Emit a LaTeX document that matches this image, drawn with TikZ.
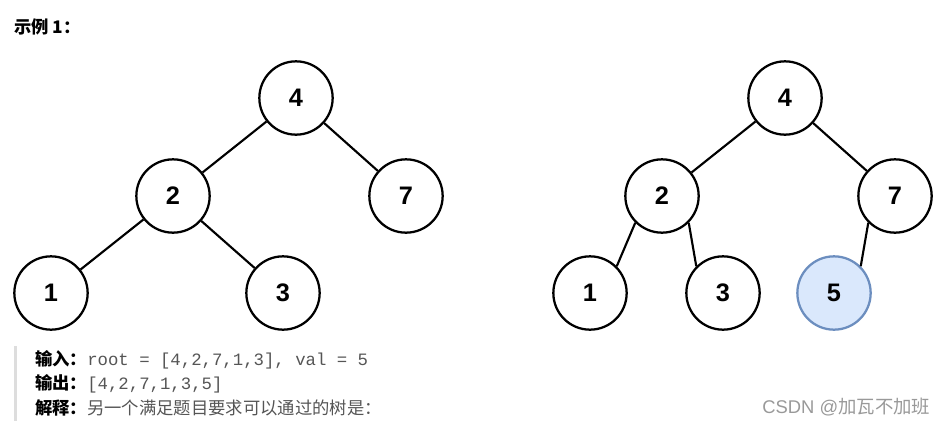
\documentclass[tikz,border=0pt]{standalone}
\usepackage{fontspec}
\setmainfont{Liberation Sans}
\setmonofont{Liberation Mono}
\newfontfamily\cjk{Noto Sans CJK SC}
\definecolor{newfill}{HTML}{DAE8FC}
\definecolor{newdraw}{HTML}{6C8EBF}
\definecolor{codegray}{HTML}{555555}
\definecolor{bargray}{HTML}{DDDDDD}

\begin{document}
\begin{tikzpicture}[x=0.75pt,y=-0.75pt,
  tnode/.style={circle,draw,line width=1.7pt,minimum size=55pt,inner sep=0pt,
    font=\fontsize{19}{22}\selectfont\bfseries},
  newnode/.style={tnode,fill=newfill,draw=newdraw},
  tedge/.style={line width=1.6pt},
  txt/.style={anchor=west,inner sep=0pt,font=\fontsize{13}{15}\selectfont}]
  \useasboundingbox (0,0) rectangle (948,425);
  % title
  \node[txt] (title) at (14,27) {\cjk\bfseries 示例 1：};
  % left tree
  \node[tnode] (L4) at (296,98) {4};
  \node[tnode] (L2) at (173,196) {2};
  \node[tnode] (L7) at (406,196) {7};
  \node[tnode] (L1) at (51,293) {1};
  \node[tnode] (L3) at (283,293) {3};
  \draw[tedge] (L4)--(L2);
  \draw[tedge] (L4)--(L7);
  \draw[tedge] (L2)--(L1);
  \draw[tedge] (L2)--(L3);
  % right tree
  \node[tnode] (R4) at (785,98) {4};
  \node[tnode] (R2) at (662,196) {2};
  \node[tnode] (R7) at (895,196) {7};
  \node[tnode] (R1) at (590,293) {1};
  \node[tnode] (R3) at (723,293) {3};
  \node[newnode] (R5) at (834,293) {5};
  \draw[tedge] (R4)--(R2);
  \draw[tedge] (R4)--(R7);
  \draw[tedge] (R2.225)--(R1.45);
  \draw[tedge] (R2.-45)--(R3.135);
  \draw[tedge] (R7.225)--(R5.45);
  % text block
  \fill[bargray] (14,346) rectangle (17,421);
  \node[txt] (in) at (35,360) {{\cjk\bfseries 输入：}\textcolor{codegray}{\texttt{root = [4,2,7,1,3], val = 5}}};
  \node[txt] (out) at (35,384) {{\cjk\bfseries 输出：}\textcolor{codegray}{\texttt{[4,2,7,1,3,5]}}};
  \node[txt] (why) at (35,408) {{\cjk\bfseries 解释：}\textcolor{codegray}{\cjk 另一个满足题目要求可以通过的树是：}};
  \node[txt,text=gray!80,font=\fontsize{13.8}{16}\selectfont] (mark) at (762,407) {CSDN @{\cjk 加瓦不加班}};
\end{tikzpicture}
\end{document}
